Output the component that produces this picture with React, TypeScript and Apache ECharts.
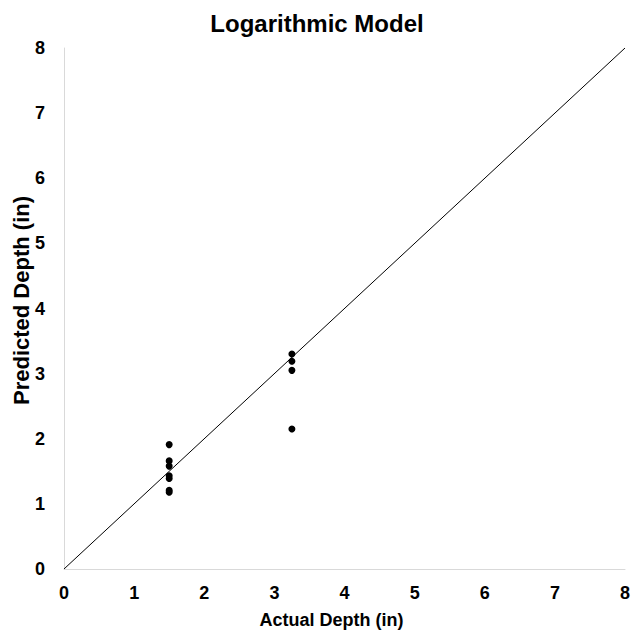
import React, { useEffect, useRef } from "react";
import * as echarts from "echarts";

const actualDepth = [1.5, 1.5, 1.5, 1.5, 1.5, 1.5, 1.5, 3.25, 3.25, 3.25, 3.25];
const predictedDepth = [1.91, 1.66, 1.58, 1.43, 1.39, 1.21, 1.18, 3.3, 3.19, 3.05, 2.15];
const lineX = [0, 8];
const lineY = [0, 8];
const axisTicks = [0, 1, 2, 3, 4, 5, 6, 7, 8];

const FONT = "Arial, 'Liberation Sans', sans-serif";

export default function App() {
  const ref = useRef<HTMLDivElement>(null);
  useEffect(() => {
    if (!ref.current) return;
    const chart = echarts.init(ref.current, null, { renderer: "svg" });
    const axisCommon = {
      type: "value" as const,
      min: axisTicks[0],
      max: axisTicks[axisTicks.length - 1],
      interval: 1,
      splitLine: { show: false },
      axisTick: { show: false },
      axisLine: { show: true, lineStyle: { color: "#d9d9d9", width: 1 } },
      nameLocation: "middle" as const,
      nameMoveOverlap: false,
    };
    chart.setOption({
      animation: false,
      backgroundColor: "#fff",
      title: {
        text: "Logarithmic Model",
        left: "center",
        top: 6,
        textStyle: { fontFamily: FONT, fontWeight: "bold", fontSize: 24, color: "#000" },
      },
      grid: { left: 64, right: 9, top: 48, bottom: 67, containLabel: false, outerBoundsMode: "none" },
      xAxis: {
        ...axisCommon,
        name: "Actual Depth (in)",
        nameGap: 42,
        nameTextStyle: { fontFamily: FONT, fontWeight: "bold", fontSize: 18, color: "#000", padding: [0, 26, 0, 0] },
        axisLabel: { fontFamily: FONT, fontWeight: "bold", fontSize: 18, color: "#000", margin: 15 },
      },
      yAxis: {
        ...axisCommon,
        name: "Predicted Depth (in)",
        nameGap: 32,
        nameTextStyle: { fontFamily: FONT, fontWeight: "bold", fontSize: 22, color: "#000", padding: [0, 0, 0, 16] },
        axisLabel: { fontFamily: FONT, fontWeight: "bold", fontSize: 18, color: "#000", margin: 19 },
      },
      series: [
        {
          type: "line",
          data: lineX.map((x, i) => [x, lineY[i]]),
          symbol: "none",
          lineStyle: { color: "#000", width: 1 },
          z: 1,
        },
        {
          type: "scatter",
          data: actualDepth.map((x, i) => [x, predictedDepth[i]]),
          symbol: "circle",
          symbolSize: 7,
          itemStyle: { color: "#000", opacity: 1 },
          z: 2,
        },
      ],
    });
    return () => chart.dispose();
  }, []);
  return <div ref={ref} style={{ width: 634, height: 636, position: "absolute", left: 0, top: 0 }} />;
}
